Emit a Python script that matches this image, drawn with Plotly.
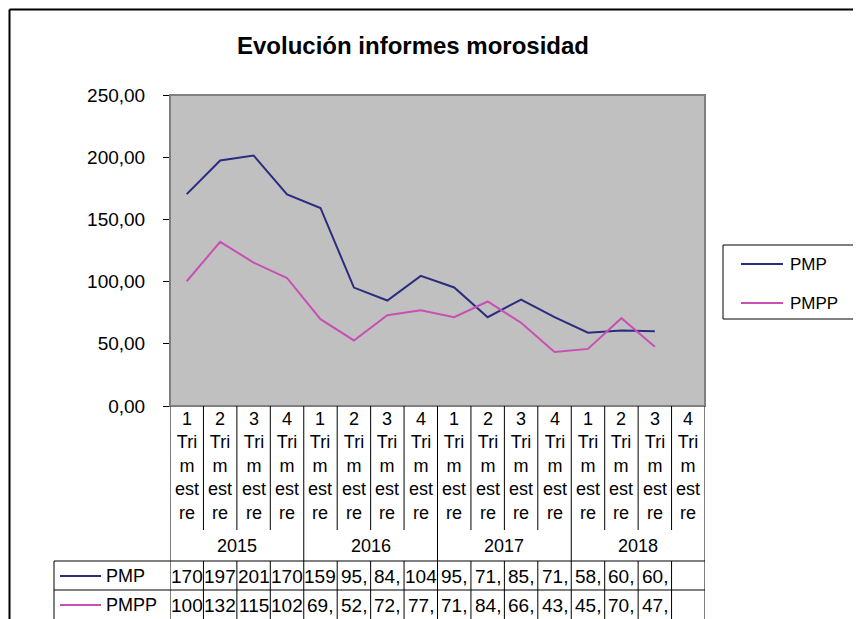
import plotly.graph_objects as go

# ---------------- data ----------------
quarter_nums = ["1", "2", "3", "4"] * 4
years = ["2015", "2016", "2017", "2018"]
series_names = ["PMP", "PMPP"]
pmp = [170.3, 197.4, 201.4, 170.1, 159.2, 95.2, 84.8, 104.6, 95.3, 71.4, 85.6, 71.4, 58.9, 60.6, 60.1, None]
pmpp = [100.3, 132.0, 115.3, 102.9, 69.8, 52.7, 72.9, 77.0, 71.4, 84.0, 66.9, 43.4, 45.9, 70.6, 47.6, None]
y_ticks = [0, 50, 100, 150, 200, 250]

colors = ["#2B2C7F", "#C850B4"]
FONT = "Liberation Sans, Arial, sans-serif"

OFF = 8                                   # page body margin
W, H = 861 - OFF, 619 - OFF
L, R, T, B = 170, 705, 95, 406           # plot area in screen pixels
PW, PH = R - L, B - T


def px(x):   # screen pixel x -> paper
    return (x - L) / PW


def py(y):   # screen pixel y -> paper
    return (B - y) / PH


n = len(quarter_nums)
xs = list(range(n))
quarter_labels = [f"{q}<br>Tri<br>m<br>est<br>re" for q in quarter_nums]

fig = go.Figure()
for name, vals, col in zip(series_names, [pmp, pmpp], colors):
    fig.add_trace(go.Scatter(x=xs, y=vals, mode="lines", name=name,
                             line=dict(color=col, width=2), showlegend=False,
                             connectgaps=False))

shapes = []
ann = []
blk = dict(color="#000000", width=1)

# outer frame
shapes.append(dict(type="line", xref="paper", yref="paper", x0=px(9.5), x1=px(854), y0=py(9.5), y1=py(9.5),
                   line=dict(color="#000", width=2)))
shapes.append(dict(type="line", xref="paper", yref="paper", x0=px(9.5), x1=px(9.5), y0=py(9.5), y1=py(640),
                   line=dict(color="#000", width=2)))

# plot area border
shapes.append(dict(type="rect", xref="paper", yref="paper", x0=0, x1=1, y0=0, y1=1,
                   line=dict(color="#7F7F7F", width=2), layer="above"))

# category separators below axis
for k in range(n + 1):
    xv = k - 0.5
    long_line = (k % 4 == 0)
    shapes.append(dict(type="line", xref="x", yref="paper", x0=xv, x1=xv,
                       y0=py(B), y1=py(640 if long_line else 530), line=blk))
    if not long_line:
        shapes.append(dict(type="line", xref="x", yref="paper", x0=xv, x1=xv,
                           y0=py(561), y1=py(640), line=blk))

# table lines
for yy in (561, 590):
    shapes.append(dict(type="line", xref="paper", yref="paper", x0=px(54), x1=1,
                       y0=py(yy), y1=py(yy), line=blk))
shapes.append(dict(type="line", xref="paper", yref="paper", x0=px(54), x1=px(54),
                   y0=py(561), y1=py(640), line=blk))

# quarter labels
for i, lab in enumerate(quarter_labels):
    ann.append(dict(x=i, xref="x", y=py(466), yref="paper", text=lab, showarrow=False,
                    xanchor="center", yanchor="middle", align="center",
                    font=dict(family=FONT, size=18, color="#000")))
# year labels
for j, yr in enumerate(years):
    ann.append(dict(x=4 * j + 1.5, xref="x", y=py(546), yref="paper", text=yr, showarrow=False,
                    xanchor="center", yanchor="middle",
                    font=dict(family=FONT, size=18, color="#000")))

# data table
for r, (name, vals, col) in enumerate(zip(series_names, [pmp, pmpp], colors)):
    yc = 576 + 29 * r
    shapes.append(dict(type="line", xref="paper", yref="paper", x0=px(60), x1=px(101),
                       y0=py(yc), y1=py(yc), line=dict(color=col, width=2)))
    ann.append(dict(x=px(104), xref="paper", y=py(yc), yref="paper", text=name, showarrow=False,
                    xanchor="left", yanchor="middle", font=dict(family=FONT, size=18, color="#000")))
    for i, v in enumerate(vals):
        if v is None:
            continue
        txt = f"{v:.2f}".replace(".", ",")[:3]
        ann.append(dict(x=i, xref="x", y=py(yc), yref="paper", text=txt, showarrow=False,
                        xanchor="center", yanchor="middle",
                        font=dict(family=FONT, size=19, color="#000")))

# legend (drawn)
shapes.append(dict(type="rect", xref="paper", yref="paper", x0=px(723), x1=px(858),
                   y0=py(245), y1=py(319), line=blk, fillcolor="white"))
for r, (name, col) in enumerate(zip(series_names, colors)):
    yc = 264 + 39 * r
    shapes.append(dict(type="line", xref="paper", yref="paper", x0=px(741), x1=px(783),
                       y0=py(yc), y1=py(yc), line=dict(color=col, width=2)))
    ann.append(dict(x=px(788), xref="paper", y=py(yc), yref="paper", text=name, showarrow=False,
                    xanchor="left", yanchor="middle", font=dict(family=FONT, size=17, color="#000")))

fig.update_layout(
    width=W, height=H,
    margin=dict(l=L - OFF, r=W - (R - OFF), t=T - OFF, b=H - (B - OFF), pad=0),
    paper_bgcolor="white", plot_bgcolor="#C0C0C0",
    separators=",.",
    title=dict(text="<b>Evolución informes morosidad</b>", xref="container", yref="container",
               x=(413 - OFF) / W, y=1 - (46 - OFF) / H, xanchor="center", yanchor="middle",
               font=dict(family=FONT, size=24, color="#000")),
    xaxis=dict(range=[-0.5, n - 0.5], showgrid=False, zeroline=False, showticklabels=False,
               ticks="", showline=False, fixedrange=True),
    yaxis=dict(range=[0, 250], tickvals=y_ticks, tickformat=".2f", showgrid=False, zeroline=False,
               ticks="outside", ticklen=6, tickcolor="#000", showline=True, linecolor="#000",
               linewidth=1, ticklabelstandoff=14,
               tickfont=dict(family=FONT, size=19, color="#000"), fixedrange=True),
    shapes=shapes, annotations=ann, showlegend=False,
)

fig.write_html("out.html")
